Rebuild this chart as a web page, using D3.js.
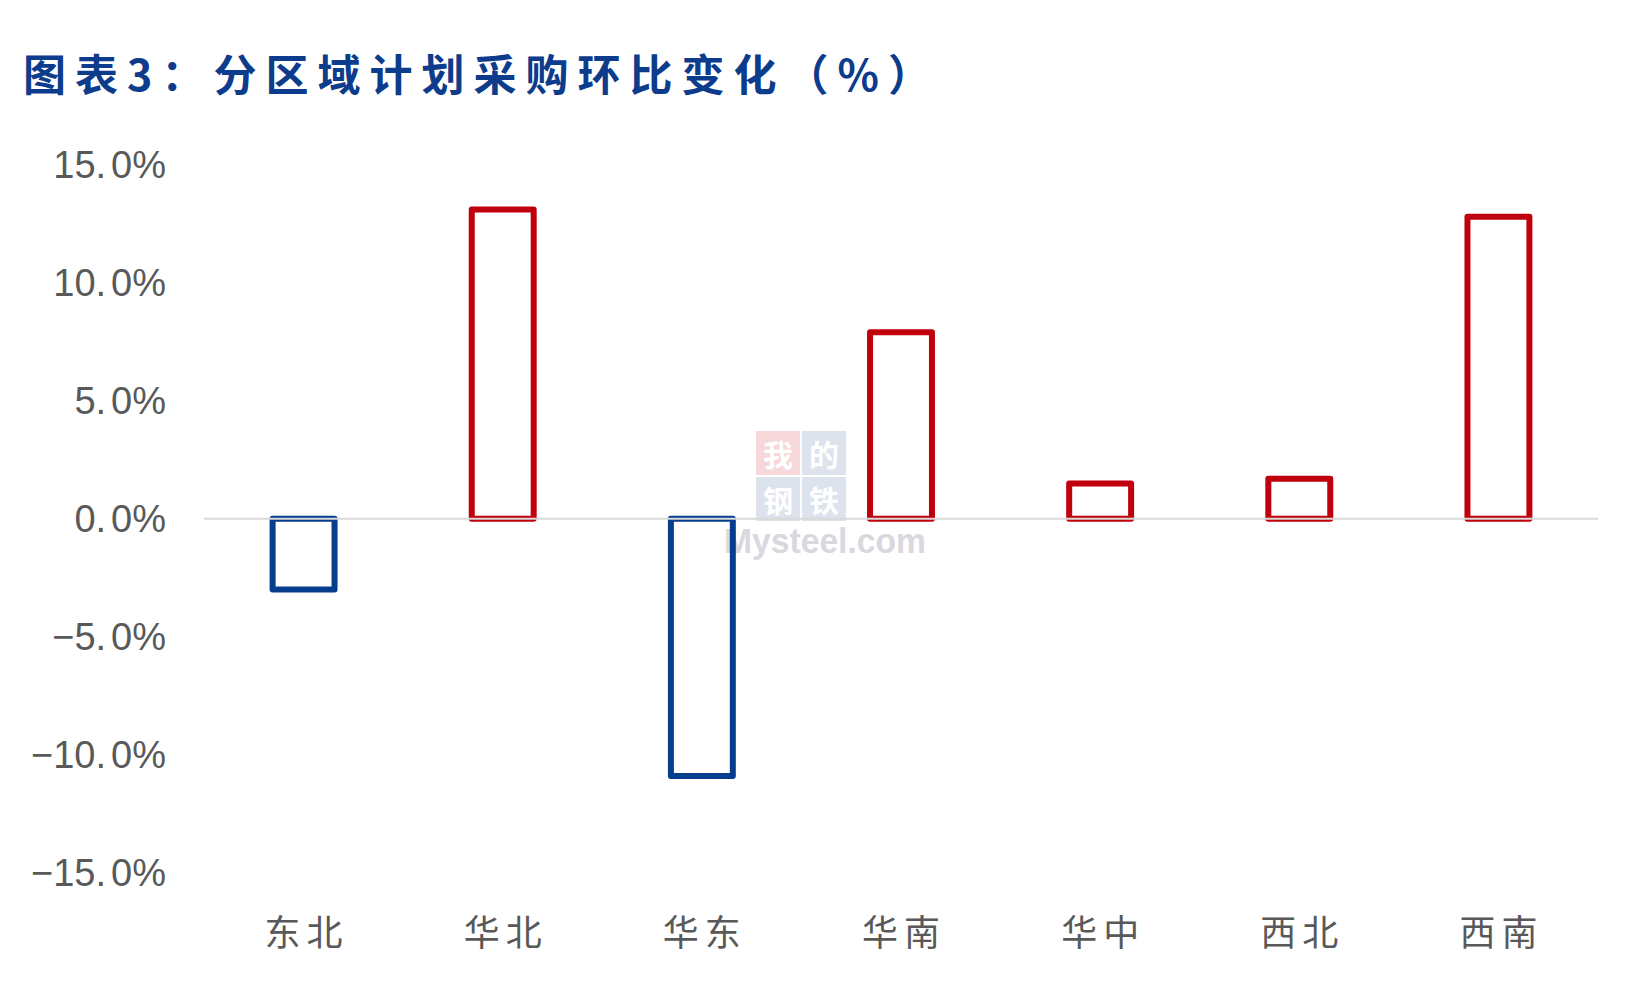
<!DOCTYPE html>
<html><head><meta charset="utf-8">
<script src="https://cdn.jsdelivr.net/npm/d3@7/dist/d3.min.js"></script>
<style>
html,body{margin:0;padding:0;background:#fff;}
svg{display:block;}
</style></head>
<body>
<svg id="chart" width="1650" height="990"></svg>
<script>
// ---- data ----
const categories = ["东北","华北","华东","华南","华中","西北","西南"];
const values = [-3.0, 13.1, -10.9, 7.9, 1.5, 1.7, 12.8];
const yTicks = [15, 10, 5, 0, -5, -10, -15];
const titleText = "图表3：分区域计划采购环比变化（%）";

const svg = d3.select("#chart");
const plot = {left: 204, right: 1598, top: 164.7, bottom: 872.9};

const x = d3.scaleBand().domain(categories).range([plot.left, plot.right])
  .paddingInner(0.689).paddingOuter(0.689/2);
const y = d3.scaleLinear().domain([-15, 15]).range([plot.bottom, plot.top]);

const RED = "#C0000C", BLUE = "#063D8C";

// title
svg.append("text")
  .attr("x", 23).attr("y", 71.5)
  .attr("dominant-baseline", "central")
  .attr("textLength", 908).attr("lengthAdjust", "spacing")
  .style("font-family", "'Noto Sans CJK SC', sans-serif")
  .style("font-weight", "700").style("font-size", "43px")
  .style("fill", "#0D3C8C")
  .text(titleText);

// y axis labels ("15. 0%" style with a gap after the point)
const yl = svg.append("g").selectAll("text").data(yTicks).join("text")
  .attr("x", 166).attr("y", d => y(d))
  .attr("text-anchor", "end").attr("dominant-baseline", "central")
  .style("font-family", "'Liberation Sans', Arial, sans-serif")
  .style("font-size", "38px").style("fill", "#595959");
yl.append("tspan").text(d => (d < 0 ? "\u2212" : "") + Math.abs(d).toFixed(0) + ".");
yl.append("tspan").attr("dx", 5).text("0%");

// watermark
const wm = svg.append("g").attr("opacity", 0.55);
const sq = 44, wx = 756, wy = 431;
const wmCells = [
  {ch: "我", c: 0, r: 0, col: "#efb9bd"},
  {ch: "的", c: 1, r: 0, col: "#c3cde0"},
  {ch: "钢", c: 0, r: 1, col: "#c3cde0"},
  {ch: "铁", c: 1, r: 1, col: "#c3cde0"}
];
wm.selectAll("rect").data(wmCells).join("rect")
  .attr("x", d => wx + d.c * (sq + 2)).attr("y", d => wy + d.r * (sq + 2))
  .attr("width", sq).attr("height", sq).attr("fill", d => d.col);
wm.selectAll("text.ch").data(wmCells).join("text").attr("class", "ch")
  .attr("x", d => wx + d.c * (sq + 2) + sq / 2).attr("y", d => wy + d.r * (sq + 2) + sq / 2)
  .attr("text-anchor", "middle").attr("dominant-baseline", "central")
  .style("font-family", "'Noto Sans CJK SC', sans-serif").style("font-weight", "700")
  .style("font-size", "30px").style("fill", "#ffffff")
  .text(d => d.ch);
wm.append("text")
  .attr("x", 724).attr("y", 553)
  .attr("textLength", 202).attr("lengthAdjust", "spacingAndGlyphs")
  .style("font-family", "'Liberation Sans', Arial, sans-serif").style("font-weight", "700")
  .style("font-size", "35px").style("fill", "#b9b9c4")
  .text("Mysteel.com");

// bars
svg.append("g").selectAll("rect").data(values).join("rect")
  .attr("x", (d, i) => x(categories[i]))
  .attr("width", x.bandwidth())
  .attr("y", d => y(Math.max(0, d)))
  .attr("height", d => Math.abs(y(d) - y(0)))
  .attr("fill", "none")
  .attr("stroke", d => d >= 0 ? RED : BLUE)
  .attr("stroke-width", 6)
  .attr("stroke-linejoin", "round");

// zero line
svg.append("line")
  .attr("x1", plot.left).attr("x2", plot.right)
  .attr("y1", y(0)).attr("y2", y(0))
  .attr("stroke", "#d9d9d9").attr("stroke-width", 2);

// x labels
svg.append("g").selectAll("text").data(categories).join("text")
  .attr("x", d => x(d) + x.bandwidth() / 2 + 3).attr("y", 930)
  .attr("text-anchor", "middle").attr("dominant-baseline", "central")
  .style("font-family", "'Noto Sans CJK SC', sans-serif")
  .style("font-size", "36px").style("letter-spacing", "6px").style("fill", "#595959")
  .text(d => d);
</script>
</body></html>
